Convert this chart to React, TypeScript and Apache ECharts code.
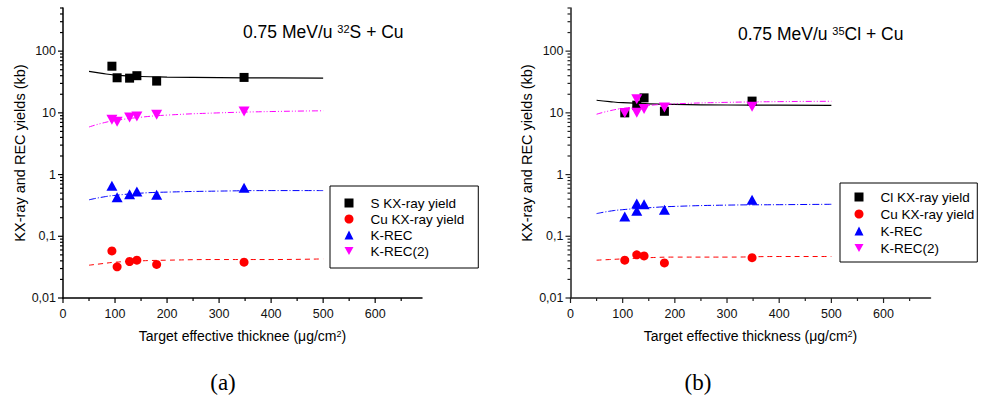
import React, { useEffect, useRef } from 'react';
import * as echarts from 'echarts';

// ---------- Panel (a): 0.75 MeV/u 32S + Cu ----------
const thicknessA = [94, 104, 128, 142, 180, 348];
const sKxA = [57, 37, 36.5, 40, 32.7, 37.5];
const cuKxA = [0.058, 0.032, 0.039, 0.041, 0.035, 0.038];
const kRecA = [0.66, 0.43, 0.48, 0.53, 0.47, 0.61];
const kRec2A = [7.7, 7.2, 8.4, 8.7, 9.3, 10.5];

// ---------- Panel (b): 0.75 MeV/u 35Cl + Cu ----------
const clThickB = [104, 127, 141, 180, 348];
const clKxB = [10, 13.3, 17.5, 10.6, 15.5];
const cuThickB = [104, 127, 141, 180, 348];
const cuKxB = [0.041, 0.05, 0.048, 0.037, 0.045];
const recThickB = [104, 127, 127, 141, 180, 348];
const kRecB = [0.21, 0.34, 0.26, 0.33, 0.27, 0.39];
const kRec2B = [9.9, 16.6, 10, 11.5, 12.2, 12.5];

// ---------- fitted curves (read at these thicknesses) ----------
const fitX = [50, 75, 100, 150, 200, 300, 400, 500];
const sFitA = [47, 43.5, 41, 38.8, 38, 37.2, 36.8, 36.5];
const kRec2FitA = [5.9, 6.8, 7.5, 8.5, 9.2, 10, 10.5, 10.8];
const kRecFitA = [0.39, 0.43, 0.46, 0.5, 0.52, 0.54, 0.55, 0.55];
const cuFitA = [0.034, 0.036, 0.038, 0.04, 0.041, 0.042, 0.042, 0.043];

const clFitB = [16, 15.2, 14.6, 14, 13.7, 13.4, 13.3, 13.2];
const kRec2FitB = [9.5, 10.8, 11.8, 13.2, 14, 14.8, 15.2, 15.4];
const kRecFitB = [0.233, 0.255, 0.27, 0.29, 0.305, 0.32, 0.325, 0.33];
const cuFitB = [0.041, 0.042, 0.043, 0.045, 0.046, 0.046, 0.047, 0.047];

// ---------- axes ----------
const yMajorTicks = [0.01, 0.1, 1, 10, 100];
const yMinorTicks = [
  0.02, 0.03, 0.04, 0.05, 0.06, 0.07, 0.08, 0.09,
  0.2, 0.3, 0.4, 0.5, 0.6, 0.7, 0.8, 0.9,
  2, 3, 4, 5, 6, 7, 8, 9,
  20, 30, 40, 50, 60, 70, 80, 90,
  200, 300, 400, 500,
];
const xMajorTicks = [0, 100, 200, 300, 400, 500, 600];
const xMinorTicks = [50, 150, 250, 350, 450, 550, 650];

const legendA = ['S KX-ray yield', 'Cu KX-ray yield', 'K-REC', 'K-REC(2)'];
const legendB = ['Cl KX-ray yield', 'Cu KX-ray yield', 'K-REC', 'K-REC(2)'];

const FONT = 'Liberation Sans, Arial, sans-serif';
const DOWN_TRIANGLE = 'path://M0,0L10,0L5,9Z';
const zip = (xs: number[], ys: number[]) => xs.map((x, i) => [x, ys[i]]);

function tickSeries(idx: number, color: string) {
  const data: number[][] = [];
  yMajorTicks.forEach((v) => data.push([0, v, 5, 0]));
  yMinorTicks.forEach((v) => data.push([0, v, 3, 0]));
  xMajorTicks.forEach((v) => data.push([v, 0.01, 5, 1]));
  xMinorTicks.forEach((v) => data.push([v, 0.01, 3, 1]));
  return {
    type: 'custom',
    xAxisIndex: idx,
    yAxisIndex: idx,
    silent: true,
    clip: false,
    z: 10,
    data,
    renderItem: (params: any, api: any) => {
      const p = api.coord([api.value(0), api.value(1)]);
      const len = api.value(2);
      const isX = api.value(3) === 1;
      return {
        type: 'line',
        shape: isX
          ? { x1: p[0], y1: p[1], x2: p[0], y2: p[1] + len }
          : { x1: p[0] - len, y1: p[1], x2: p[0], y2: p[1] },
        style: { stroke: color, lineWidth: 1.2 },
      };
    },
  };
}

function scatter(name: string, idx: number, data: number[][], color: string, symbol: string, size: any, rotate = 0) {
  return {
    type: 'scatter',
    name,
    xAxisIndex: idx,
    yAxisIndex: idx,
    data,
    symbol,
    symbolSize: size,
    symbolRotate: rotate,
    itemStyle: { color, opacity: 1 },
    z: 5,
  };
}

function fit(idx: number, ys: number[], color: string, dash: any, width = 1) {
  return {
    type: 'line',
    xAxisIndex: idx,
    yAxisIndex: idx,
    data: zip(fitX, ys),
    smooth: true,
    showSymbol: false,
    symbol: 'none',
    silent: true,
    lineStyle: { color, width, type: dash },
    z: 3,
  };
}

function makeXAxis(idx: number, name: string, color: string) {
  return {
    type: 'value',
    gridIndex: idx,
    min: 0,
    max: 690,
    interval: 100,
    name,
    nameLocation: 'middle',
    nameGap: 31,
    nameTextStyle: {
      fontSize: 14,
      fontFamily: FONT,
      color: '#000',
      rich: { sup: { fontSize: 9, fontFamily: FONT, verticalAlign: 'top', lineHeight: 10, color: '#000' } },
    },
    axisLine: { show: true, onZero: false, lineStyle: { color, width: 1.5 } },
    axisTick: { show: false },
    minorTick: { show: false },
    splitLine: { show: false },
    axisLabel: { show: true, fontSize: 12.5, fontFamily: FONT, color: '#111', margin: 9, showMaxLabel: false },
  };
}

function makeYAxis(idx: number, color: string) {
  return {
    type: 'log',
    logBase: 10,
    gridIndex: idx,
    min: 0.01,
    max: 500,
    name: 'KX-ray and REC yields (kb)',
    nameLocation: 'middle',
    nameGap: 36,
    nameTextStyle: { fontSize: 14.5, fontFamily: FONT, color: '#000' },
    axisLine: { show: true, onZero: false, lineStyle: { color, width: 1.5 } },
    axisTick: { show: false },
    minorTick: { show: false },
    splitLine: { show: false },
    axisLabel: {
      show: true,
      fontSize: 12.5,
      fontFamily: FONT,
      color: '#111',
      margin: 7,
      showMaxLabel: false,
      formatter: (v: number) => (v > 200 ? '' : String(v).replace('.', ',')),
    },
  };
}

function legend(names: string[], left: number, top: number, padding: number[], gap: number) {
  return {
    orient: 'vertical',
    left,
    top,
    data: names.map((n) => (n === 'K-REC(2)' ? { name: n, icon: DOWN_TRIANGLE } : n)),
    selectedMode: false,
    borderColor: '#000',
    borderWidth: 1,
    padding,
    itemWidth: 9,
    itemHeight: 9,
    itemGap: gap,
    symbolKeepAspect: true,
    textStyle: { fontSize: 13.5, lineHeight: 16, fontFamily: FONT, color: '#000', padding: [0, 0, 0, 12] },
  };
}

export default function App() {
  const ref = useRef<HTMLDivElement>(null);
  useEffect(() => {
    if (!ref.current) return;
    const chart = echarts.init(ref.current, null, { renderer: 'svg' });
    const supRich = { sup: { fontSize: 11, fontFamily: FONT, verticalAlign: 'top', lineHeight: 11 } };
    const option: any = {
      animation: false,
      backgroundColor: '#fff',
      grid: [
        { left: 63, top: 8, width: 359, height: 290 },
        { left: 570.5, top: 8, width: 360, height: 290 },
      ],
      xAxis: [
        makeXAxis(0, 'Target effective thicknee (\u03bcg/cm{sup|2})', '#000'),
        makeXAxis(1, 'Target effective thickness (\u03bcg/cm{sup|2})', '#222'),
      ],
      yAxis: [makeYAxis(0, '#000'), makeYAxis(1, '#222')],
      legend: [
        legend(legendA, 330, 186, [9, 14, 9, 14.5], 0),
        legend(legendB, 840, 183, [6, 3, 6, 14.5], 1),
      ],
      graphic: [
        {
          type: 'text',
          left: 243,
          top: 23,
          style: {
            text: '0.75 MeV/u {sup|32}S + Cu',
            fontSize: 17.5,
            fontFamily: FONT,
            fill: '#000',
            rich: supRich,
          },
        },
        {
          type: 'text',
          left: 738,
          top: 25,
          style: {
            text: '0.75 MeV/u {sup|35}Cl + Cu',
            fontSize: 17.5,
            fontFamily: FONT,
            fill: '#000',
            rich: supRich,
          },
        },
        {
          type: 'text',
          x: 223,
          y: 382,
          style: { text: '(a)', font: '23px "Liberation Serif", "Times New Roman", serif', fill: '#000', align: 'center', verticalAlign: 'middle' },
        },
        {
          type: 'text',
          x: 698,
          y: 382,
          style: { text: '(b)', font: '23px "Liberation Serif", "Times New Roman", serif', fill: '#000', align: 'center', verticalAlign: 'middle' },
        },
      ],
      series: [
        // panel a fits
        fit(0, sFitA, '#000', 'solid', 1.2),
        fit(0, kRec2FitA, '#ff00ff', [6, 2, 1, 2, 1, 2]),
        fit(0, kRecFitA, '#0000ff', [7, 2, 1, 2]),
        fit(0, cuFitA, '#ff0000', [5, 4]),
        // panel a data
        scatter('S KX-ray yield', 0, zip(thicknessA, sKxA), '#000', 'rect', 9),
        scatter('Cu KX-ray yield', 0, zip(thicknessA, cuKxA), '#ff0000', 'circle', 9),
        scatter('K-REC', 0, zip(thicknessA, kRecA), '#0000ff', 'triangle', [11, 10]),
        scatter('K-REC(2)', 0, zip(thicknessA, kRec2A), '#ff00ff', 'triangle', [11, 10], 180),
        // panel b fits
        fit(1, clFitB, '#000', 'solid', 1.2),
        fit(1, kRec2FitB, '#ff00ff', [6, 2, 1, 2, 1, 2]),
        fit(1, kRecFitB, '#0000ff', [7, 2, 1, 2]),
        fit(1, cuFitB, '#ff0000', [5, 4]),
        // panel b data
        scatter('Cl KX-ray yield', 1, zip(clThickB, clKxB), '#000', 'rect', 9),
        scatter('Cu KX-ray yield', 1, zip(cuThickB, cuKxB), '#ff0000', 'circle', 9),
        scatter('K-REC', 1, zip(recThickB, kRecB), '#0000ff', 'triangle', [11, 10]),
        scatter('K-REC(2)', 1, zip(recThickB, kRec2B), '#ff00ff', 'triangle', [11, 10], 180),
        // ticks
        tickSeries(0, '#000'),
        tickSeries(1, '#222'),
      ],
    };
    chart.setOption(option);
    return () => chart.dispose();
  }, []);
  return (
    <div
      ref={ref}
      style={{ position: 'absolute', left: 0, top: 0, width: 985, height: 401, background: '#fff' }}
    />
  );
}
